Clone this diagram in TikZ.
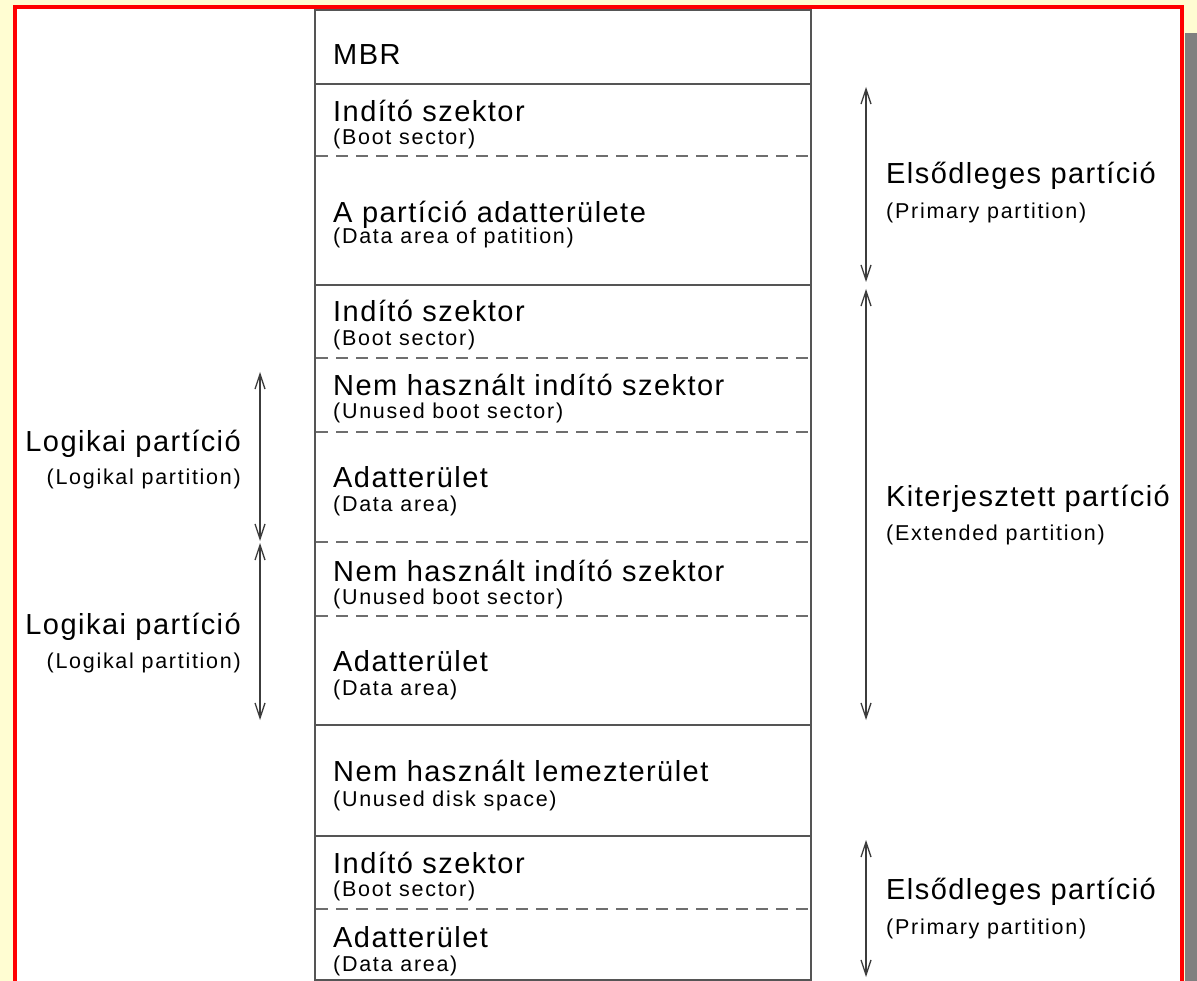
\documentclass[tikz,border=0pt]{standalone}
\usepackage{fontspec}
\setmainfont{Liberation Sans}
\newfontfamily\mainf[LetterSpace=5]{Liberation Sans}
\newfontfamily\smallf[LetterSpace=8]{Liberation Sans}
\usetikzlibrary{arrows.meta}
\definecolor{bgyellow}{RGB}{255,253,210}
\definecolor{framered}{RGB}{255,0,0}
\definecolor{shadowgray}{RGB}{128,128,128}
\definecolor{colline}{RGB}{85,85,85}
\definecolor{dashline}{RGB}{110,110,110}
\definecolor{arrowgray}{RGB}{60,60,60}
\tikzset{
  x=1pt, y=-1pt,
  big/.style={anchor=base west, inner sep=0pt, font=\mainf\fontsize{29}{34}\selectfont},
  sm/.style={anchor=base west, inner sep=0pt, font=\smallf\fontsize{21.5}{26}\selectfont},
  bigr/.style={big, anchor=base east},
  smr/.style={sm, anchor=base east},
  solidline/.style={draw=colline, line width=2pt},
  dashedline/.style={draw=dashline, line width=1.6pt, dash pattern=on 12pt off 8pt},
  span/.style={draw=arrowgray, line width=1.3pt, {Straight Barb[length=15pt,width=10pt]}-{Straight Barb[length=15pt,width=10pt]}}
}
\begin{document}
\begin{tikzpicture}
\clip (0,0) rectangle (1197,981);
\fill[bgyellow] (0,0) rectangle (1197,981);
\fill[shadowgray] (1185,33) rectangle (1197,981);
\filldraw[fill=white, draw=framered, line width=4pt] (15,7.5) rectangle (1182,1000);

% column
\draw[solidline] (315,10) rectangle (811,980);
\foreach \yy in {84,285,725,836} {\draw[solidline] (315,\yy) -- (811,\yy);}
\foreach \yy in {156,358,432,542,616,909} {\draw[dashedline] (316,\yy) -- (810,\yy);}

% column texts
\node[big] (mbr) at (333,65) {MBR};
\node[big] (b1) at (333,122) {Indító szektor};
\node[sm] (b1e) at (333,145) {(Boot sector)};
\node[big] (d1) at (333,223) {A partíció adatterülete};
\node[sm] (d1e) at (333,244) {(Data area of patition)};
\node[big] (b2) at (333,322) {Indító szektor};
\node[sm] (b2e) at (333,346) {(Boot sector)};
\node[big] (u1) at (333,396) {Nem használt indító szektor};
\node[sm] (u1e) at (333,419) {(Unused boot sector)};
\node[big] (d2) at (333,487) {Adatterület};
\node[sm] (d2e) at (333,511) {(Data area)};
\node[big] (u2) at (333,581) {Nem használt indító szektor};
\node[sm] (u2e) at (333,604) {(Unused boot sector)};
\node[big] (d3) at (333,671) {Adatterület};
\node[sm] (d3e) at (333,695) {(Data area)};
\node[big] (un) at (333,781) {Nem használt lemezterület};
\node[sm] (une) at (333,806) {(Unused disk space)};
\node[big] (b3) at (333,873) {Indító szektor};
\node[sm] (b3e) at (333,896) {(Boot sector)};
\node[big] (d4) at (333,947) {Adatterület};
\node[sm] (d4e) at (333,971) {(Data area)};

% right labels
\node[big] (p1) at (886,184) {Elsődleges partíció};
\node[sm] (p1e) at (886,219) {(Primary partition)};
\node[big] (ext) at (886,506) {Kiterjesztett partíció};
\node[sm] (exte) at (886,540) {(Extended partition)};
\node[big] (p2) at (886,899) {Elsődleges partíció};
\node[sm] (p2e) at (886,934) {(Primary partition)};

% left labels
\node[bigr] (l1) at (241,451) {Logikai partíció};
\node[smr] (l1e) at (241,484) {(Logikal partition)};
\node[bigr] (l2) at (241,634) {Logikai partíció};
\node[smr] (l2e) at (241,668) {(Logikal partition)};

% arrow end points
\coordinate (r1a) at (866,87);
\coordinate (r1b) at (866,282);
\coordinate (r2a) at (866,289);
\coordinate (r2b) at (866,720);
\coordinate (r3a) at (866,840);
\coordinate (r3b) at (866,977);
\coordinate (l1a) at (260,372);
\coordinate (l1b) at (260,541);
\coordinate (l2a) at (260,543);
\coordinate (l2b) at (260,720);

\draw[span] (r1a) -- (r1b);
\draw[span] (r2a) -- (r2b);
\draw[span] (r3a) -- (r3b);
\draw[span] (l1a) -- (l1b);
\draw[span] (l2a) -- (l2b);
\end{tikzpicture}
\end{document}
